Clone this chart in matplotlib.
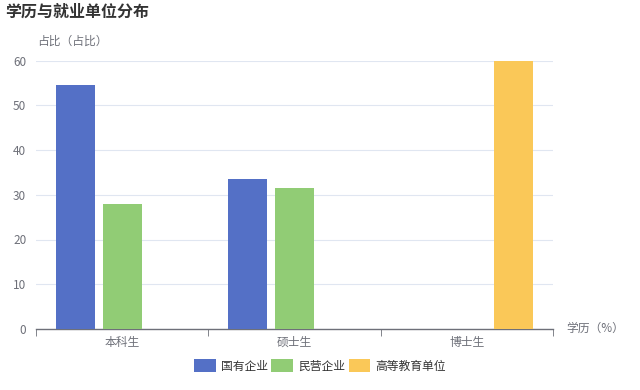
import numpy as np
import matplotlib.pyplot as plt
from matplotlib.patches import Patch

plt.rcParams['font.family'] = ['Noto Sans CJK SC', 'DejaVu Sans']

categories = ['本科生', '硕士生', '博士生']
series_names = ['国有企业', '民营企业', '高等教育单位']
state_owned = [54.6, 33.6, 0]
private = [28.0, 31.6, 0]
higher_edu = [0, 0, 60]
colors = ['#5470C6', '#91CC75', '#FAC858']

fig = plt.figure(figsize=(6.4, 3.9), dpi=100)
ax = fig.add_axes([36/640, 61/390, 517/640, 268.5/390])

x = np.arange(len(categories))
w = 0.227
offs = [-0.273, 0, 0.273]
for vals, off, c, name in zip([state_owned, private, higher_edu], offs, colors, series_names):
    ax.bar(x + off, vals, width=w, color=c, label=name, zorder=3)

ax.set_xlim(-0.5, 2.5)
ax.set_ylim(0, 60)
ax.set_yticks(range(0, 61, 10))
ax.grid(axis='y', color='#E0E6F1', linewidth=0.8, zorder=0)
for s in ['top', 'right', 'left']:
    ax.spines[s].set_visible(False)
ax.spines['bottom'].set_color('#6E7079')
ax.spines['bottom'].set_linewidth(1)
ax.tick_params(axis='y', length=0, pad=7, labelsize=8.5, labelcolor='#6E7079')
ax.set_xticks(x)
ax.set_xticklabels(categories)
ax.tick_params(axis='x', length=0, pad=5, labelsize=8.5, labelcolor='#6E7079')
ax.set_xticks([-0.5, 0.5, 1.5, 2.5], minor=True)
ax.tick_params(axis='x', which='minor', length=5, color='#6E7079', direction='out')

fig.text(5/640, 1 - 12/390, '学历与就业单位分布', fontsize=11.5, fontweight='bold',
         color='#333333', va='center', ha='left')
fig.text(37/640, 1 - 41/390, '占比（占比）', fontsize=8.5, color='#6E7079', va='center', ha='left')
fig.text(566/640, 1 - 328/390, '学历（%）', fontsize=8.5, color='#6E7079', va='center', ha='left')

handles = [Patch(facecolor=c, edgecolor='none') for c in colors]
fig.legend(handles, series_names, loc='center', bbox_to_anchor=(320/640, 1 - 366/390),
           ncol=3, frameon=False, fontsize=8.5, handlelength=1.8, handleheight=1.2,
           handletextpad=0.45, columnspacing=0.3, labelcolor='#333333')

fig.savefig('out.png', dpi=100)
